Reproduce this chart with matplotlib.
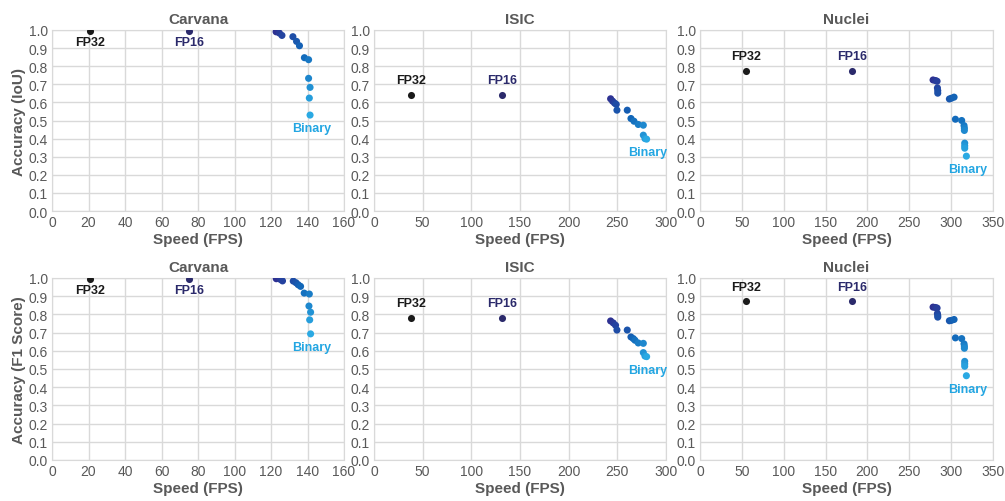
import numpy as np
import matplotlib
matplotlib.use("Agg")
import matplotlib.pyplot as plt
from matplotlib.colors import LinearSegmentedColormap

plt.rcParams['font.family'] = ['Liberation Sans', 'DejaVu Sans']

# 数据：每个数据集 FP32 / FP16 的 (速度, 精度)，以及量化模型的速度-精度点
datasets = ["Carvana", "ISIC", "Nuclei"]
x_max = [160, 300, 350]
x_step = [20, 50, 50]

fp32_speed = [21, 38.5, 55.5]
fp16_speed = [75, 131.5, 181.5]
fp32_iou = [0.993, 0.642, 0.776]
fp16_iou = [0.993, 0.642, 0.776]
fp32_f1 = [0.996, 0.780, 0.873]
fp16_f1 = [0.996, 0.780, 0.873]

carvana_speed = [122.8, 124.6, 126.0, 132.0, 134.0, 135.6, 138.3, 140.6, 140.6, 141.4, 141.0, 141.4]
carvana_iou = [0.990, 0.983, 0.970, 0.963, 0.937, 0.913, 0.847, 0.836, 0.733, 0.683, 0.624, 0.530]
carvana_f1_speed = [122.9, 125.2, 126.3, 132.2, 133.7, 134.9, 136.2, 138.2, 141.0, 140.8, 141.7, 141.2, 141.7]
carvana_f1 = [0.996, 0.992, 0.984, 0.983, 0.974, 0.963, 0.954, 0.917, 0.912, 0.846, 0.812, 0.770, 0.693]

isic_speed = [243.1, 245.1, 247.2, 248.9, 249.6, 260.2, 264.0, 267.1, 271.5, 276.7, 276.7, 278.4, 280.1]
isic_iou = [0.620, 0.607, 0.596, 0.589, 0.557, 0.557, 0.511, 0.496, 0.478, 0.474, 0.419, 0.400, 0.397]
isic_f1_speed = [243.1, 245.8, 248.2, 249.6, 260.2, 264.0, 266.4, 268.1, 271.5, 276.7, 276.7, 278.4, 280.1]
isic_f1 = [0.764, 0.753, 0.740, 0.714, 0.714, 0.676, 0.667, 0.658, 0.643, 0.641, 0.590, 0.571, 0.568]

nuclei_speed = [278.4, 281.2, 283.2, 283.6, 284.0, 284.0, 297.9, 300.3, 303.5, 305.1,
                312.6, 315.4, 315.8, 315.8, 316.2, 316.2, 316.2, 318.2]
nuclei_iou = [0.724, 0.721, 0.717, 0.680, 0.665, 0.651, 0.619, 0.623, 0.629, 0.507,
              0.500, 0.472, 0.458, 0.445, 0.375, 0.360, 0.347, 0.303]
nuclei_f1 = [0.840, 0.838, 0.835, 0.805, 0.794, 0.785, 0.765, 0.767, 0.772, 0.671,
             0.667, 0.638, 0.625, 0.614, 0.542, 0.528, 0.515, 0.463]

quant_iou = [(carvana_speed, carvana_iou), (isic_speed, isic_iou), (nuclei_speed, nuclei_iou)]
quant_f1 = [(carvana_f1_speed, carvana_f1), (isic_f1_speed, isic_f1), (nuclei_speed, nuclei_f1)]

gray = "#595959"
grid_c = "#d9d9d9"
c_fp32 = "#1a1a1a"
c_fp16 = "#2b2a6b"
c_bin = "#23a6e2"
cmap = LinearSegmentedColormap.from_list("q", ["#2e3192", "#1166b8", "#2aa9e3"])

W, H = 1005, 502
fig = plt.figure(figsize=(W / 100, H / 100), dpi=100)

lefts = [52, 374, 700]
widths = [292, 292, 293]
rows = [(31, 212), (279, 461)]
ylabels = ["Accuracy (IoU)", "Accuracy (F1 Score)"]


def draw_panel(ax, i, fp32_y, fp16_y, quant, ylabel):
    ax.set_xlim(0, x_max[i])
    ax.set_ylim(0, 1.0)
    ax.set_xticks(np.arange(0, x_max[i] + 1, x_step[i]))
    ax.set_yticks(np.arange(0, 1.01, 0.1))
    ax.set_yticklabels([f"{v:.1f}" for v in np.arange(0, 1.01, 0.1)])
    ax.grid(True, color=grid_c, linewidth=1)
    ax.set_axisbelow(True)
    for s in ax.spines.values():
        s.set_color(grid_c)
    ax.tick_params(length=0, labelsize=10, colors=gray, pad=3)
    ax.set_title(datasets[i], fontsize=11, fontweight="bold", color=gray, pad=5)
    ax.set_xlabel("Speed (FPS)", fontsize=11, fontweight="bold", color=gray, labelpad=2)
    if ylabel:
        ax.set_ylabel(ylabel, fontsize=11, fontweight="bold", color=gray, labelpad=2)

    xs, ys = quant
    cols = cmap(np.linspace(0, 1, len(xs)))
    ax.scatter(xs, ys, s=26, c=cols, linewidths=0, zorder=3)
    ax.scatter([fp32_speed[i]], [fp32_y], s=26, color=c_fp32, linewidths=0, zorder=3)
    ax.scatter([fp16_speed[i]], [fp16_y], s=26, color=c_fp16, linewidths=0, zorder=3)

    # 点在顶部时标签放在下方
    dy = -8 if fp32_y > 0.95 else 10.5
    ax.annotate("FP32", (fp32_speed[i], fp32_y), xytext=(0, dy), textcoords="offset points",
                ha="center", va="center", fontsize=9, fontweight="bold", color=c_fp32)
    ax.annotate("FP16", (fp16_speed[i], fp16_y), xytext=(0, dy), textcoords="offset points",
                ha="center", va="center", fontsize=9, fontweight="bold", color=c_fp16)
    ax.annotate("Binary", (xs[-1], ys[-1]), xytext=(1, -9.5), textcoords="offset points",
                ha="center", va="center", fontsize=9, fontweight="bold", color=c_bin)


for r, (top, bottom) in enumerate(rows):
    for i in range(3):
        ax = fig.add_axes([lefts[i] / W, 1 - bottom / H, widths[i] / W, (bottom - top) / H])
        if r == 0:
            draw_panel(ax, i, fp32_iou[i], fp16_iou[i], quant_iou[i], ylabels[0] if i == 0 else None)
        else:
            draw_panel(ax, i, fp32_f1[i], fp16_f1[i], quant_f1[i], ylabels[1] if i == 0 else None)

fig.savefig("out.png", dpi=100)
